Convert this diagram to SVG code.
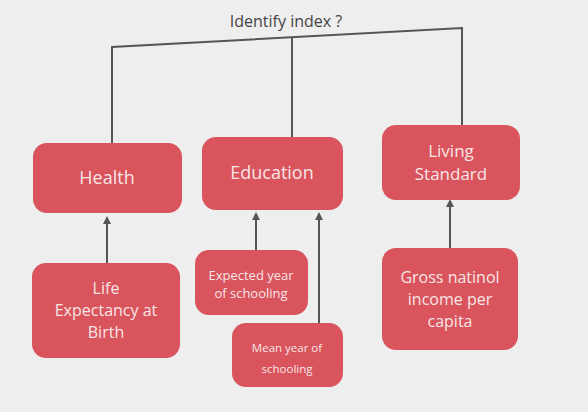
<svg xmlns="http://www.w3.org/2000/svg" width="588" height="412" viewBox="0 0 588 412">
<defs>
<marker id="ah" markerWidth="8" markerHeight="8" refX="4" refY="4" orient="auto" markerUnits="userSpaceOnUse">
<path d="M0,0 L8,4 L0,8 z" fill="#555"/>
</marker>
<style>
.box{fill:#d9545d;}
.t{fill:#f7e6e6;font-family:"Open Sans","Noto Sans",sans-serif;text-anchor:middle;}
.ln{stroke:#555;stroke-width:2;fill:none;}
</style>
</defs>
<rect width="588" height="412" fill="#eeeeee"/>
<text x="286" y="27" font-family="'Open Sans','Noto Sans',sans-serif" font-size="16" fill="#444" text-anchor="middle">Identify index ?</text>
<g id="connectors">
<path class="ln" d="M112,143 L112,47 L462,28 L462,125"/>
<path class="ln" d="M292,37 L292,137"/>
<line class="ln" x1="107" y1="263" x2="107" y2="220" marker-end="url(#ah)"/>
<line class="ln" x1="256" y1="250" x2="256" y2="216" marker-end="url(#ah)"/>
<line class="ln" x1="319" y1="323" x2="319" y2="216" marker-end="url(#ah)"/>
<line class="ln" x1="450" y1="248" x2="450" y2="203" marker-end="url(#ah)"/>
</g>
<g id="health">
<rect class="box" x="33" y="143" width="149" height="70" rx="14"/>
<text class="t" x="107" y="184" font-size="18">Health</text>
</g>
<g id="education">
<rect class="box" x="202" y="137" width="141" height="73" rx="14"/>
<text class="t" x="272" y="179" font-size="18">Education</text>
</g>
<g id="living">
<rect class="box" x="382" y="125" width="138" height="75" rx="14"/>
<text class="t" x="451" y="157" font-size="17">Living</text>
<text class="t" x="451" y="180" font-size="17">Standard</text>
</g>
<g id="life">
<rect class="box" x="32" y="263" width="148" height="95" rx="14"/>
<text class="t" x="106" y="294" font-size="16">Life</text>
<text class="t" x="106" y="316" font-size="16">Expectancy at</text>
<text class="t" x="106" y="338" font-size="16">Birth</text>
</g>
<g id="expected">
<rect class="box" x="195" y="250" width="113" height="65" rx="14"/>
<text class="t" x="251" y="280" font-size="13">Expected year</text>
<text class="t" x="251" y="298" font-size="13">of schooling</text>
</g>
<g id="mean">
<rect class="box" x="232" y="323" width="111" height="64" rx="14"/>
<text class="t" x="287" y="352" font-size="11.5">Mean year of</text>
<text class="t" x="287" y="373" font-size="11.5">schooling</text>
</g>
<g id="gross">
<rect class="box" x="382" y="248" width="136" height="102" rx="14"/>
<text class="t" x="450" y="283" font-size="16">Gross natinol</text>
<text class="t" x="450" y="305" font-size="16">income per</text>
<text class="t" x="450" y="327" font-size="16">capita</text>
</g>
</svg>
